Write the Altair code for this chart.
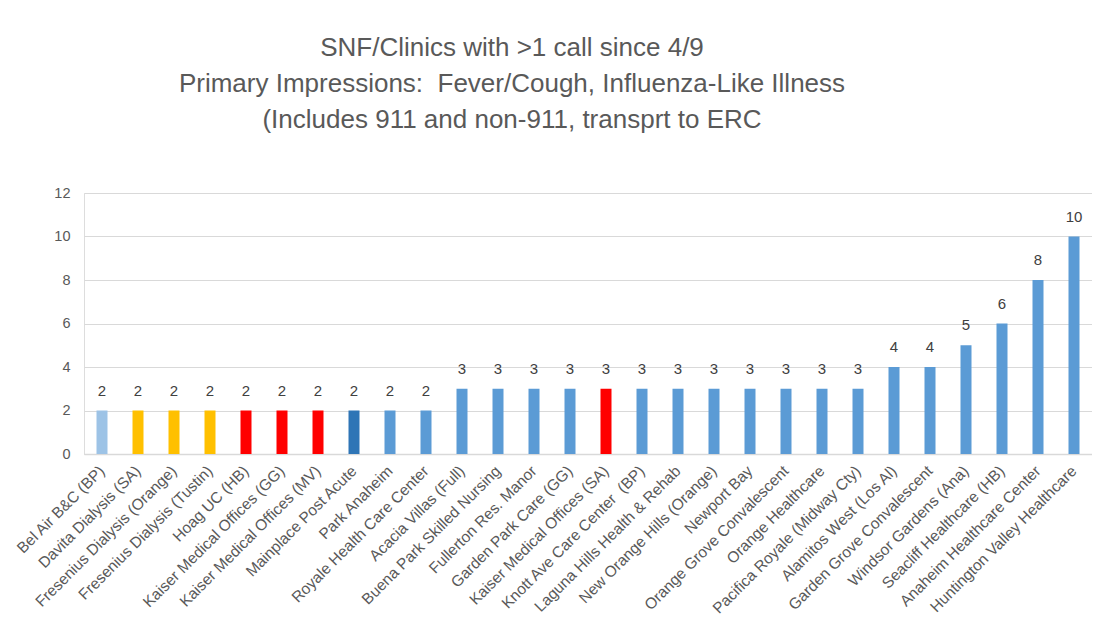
import altair as alt
import pandas as pd

facilities = [
    "Bel Air B&C (BP)", "Davita Dialysis (SA)", "Fresenius Dialysis (Orange)",
    "Fresenius Dialysis (Tustin)", "Hoag UC (HB)", "Kaiser Medical Offices (GG)",
    "Kaiser Medical Offices (MV)", "Mainplace Post Acute", "Park Anaheim",
    "Royale Health Care Center", "Acacia Villas (Full)", "Buena Park Skilled Nursing",
    "Fullerton Res. Manor", "Garden Park Care (GG)", "Kaiser Medical Offices (SA)",
    "Knott Ave Care Center\u00a0 (BP)", "Laguna Hills Health & Rehab", "New Orange Hills (Orange)",
    "Newport Bay", "Orange Grove Convalescent", "Orange Healthcare",
    "Pacifica Royale (Midway Cty)", "Alamitos West (Los Al)", "Garden Grove Convalescent",
    "Windsor Gardens (Ana)", "Seacliff Healthcare (HB)", "Anaheim Healthcare Center",
    "Huntington Valley Healthcare",
]
calls = [2, 2, 2, 2, 2, 2, 2, 2, 2, 2,
         3, 3, 3, 3, 3, 3, 3, 3, 3, 3, 3, 3,
         4, 4, 5, 6, 8, 10]
colors = ["#9DC3E6", "#FFC000", "#FFC000", "#FFC000", "#FF0000", "#FF0000",
          "#FF0000", "#2E75B6", "#5B9BD5", "#5B9BD5",
          "#5B9BD5", "#5B9BD5", "#5B9BD5", "#5B9BD5", "#FF0000", "#5B9BD5",
          "#5B9BD5", "#5B9BD5", "#5B9BD5", "#5B9BD5", "#5B9BD5", "#5B9BD5",
          "#5B9BD5", "#5B9BD5", "#5B9BD5", "#5B9BD5", "#5B9BD5", "#5B9BD5"]
title_lines = [
    "SNF/Clinics with >1 call since 4/9",
    "Primary Impressions:\u00a0 Fever/Cough, Influenza-Like Illness",
    "(Includes 911 and non-911, transprt to ERC",
]

df = pd.DataFrame({"facility": facilities, "calls": calls, "color": colors})

FONT = "Liberation Sans"
GRAY = "#595959"

x = alt.X("facility:N", sort=facilities, title=None,
          scale=alt.Scale(paddingInner=0, paddingOuter=0),
          axis=alt.Axis(labelAngle=-45, labelAlign="right", labelBaseline="middle",
                        labelFont=FONT, labelFontSize=15.5, labelColor=GRAY,
                        ticks=False, domainColor="#D9D9D9", domainWidth=1.5,
                        labelPadding=14, labelLimit=400))
y = alt.Y("calls:Q", title=None,
          scale=alt.Scale(domain=[0, 12]),
          axis=alt.Axis(values=[0, 2, 4, 6, 8, 10, 12], domain=False, ticks=False,
                        labelFont=FONT, labelFontSize=14.5, labelColor=GRAY,
                        labelPadding=14, gridColor="#D9D9D9", gridWidth=1))

bars = alt.Chart(df).mark_bar(size=11).encode(
    x=x, y=y, color=alt.Color("color:N", scale=None)
)
labels = alt.Chart(df).mark_text(dy=-20, font=FONT, fontSize=15, color="#404040").encode(
    x=alt.X("facility:N", sort=facilities),
    y="calls:Q",
    text="calls:Q",
)

chart = (bars + labels).properties(
    width=1008, height=261,
    autosize=alt.AutoSizeParams(type="none"),
    padding={"left": 76, "top": 185, "right": 0, "bottom": 180},
    title=alt.TitleParams(
        text=title_lines,
        font=FONT, fontSize=26, fontWeight="normal", color=GRAY,
        lineHeight=36, anchor="middle", dx=-76, offset=52,
    ),
).configure_view(stroke=None).configure(background="white")

chart.save("out.html", embed_options={"renderer": "svg", "actions": False})
